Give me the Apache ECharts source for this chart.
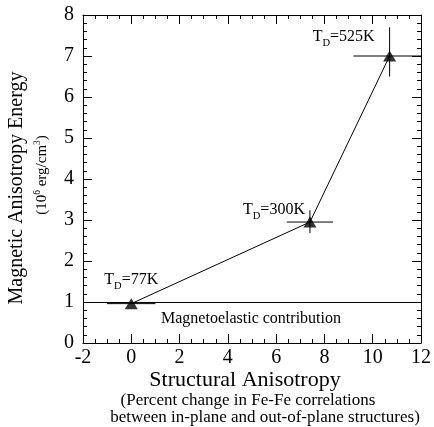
<!DOCTYPE html>
<html>
<head>
<meta charset="utf-8">
<script src="https://cdn.jsdelivr.net/npm/echarts@6/dist/echarts.min.js"></script>
<style>
html, body { margin: 0; background: #fff; }
#chart { width: 434px; height: 427px; }
</style>
</head>
<body>
<div id="chart"></div>
<script>
// structural anisotropy (%), magnetic anisotropy energy (10^6 erg/cm^3)
const anisoX = [0, 7.4, 10.7]
const energyY = [0.96, 2.95, 7.0]
const xErr = [1.0, 0.96, 1.5]
const yLow = [0.96, 2.68, 6.5]
const yHigh = [0.96, 3.24, 7.7]
const tempLabels = ['77K', '300K', '525K']
const magnetoelastic = 1.0
const xRange = [-2, 12]
const yRange = [0, 8]

const FONT = '"Liberation Serif", "Times New Roman", serif'
// label placement relative to each point, in px: [dx, dy, align]
const labelPos = [[0, -24, 'center'], [-5, -12, 'right'], [-15, -19, 'right']]

const chart = echarts.init(document.getElementById('chart'))

const axisCommon = {
  type: 'value',
  axisLine: { show: true, onZero: false, lineStyle: { color: '#000', width: 1 } },
  axisTick: { show: true, inside: true, length: 9, lineStyle: { color: '#000' } },
  minorTick: { show: true, length: 4, lineStyle: { color: '#000' } },
  splitLine: { show: false },
  minorSplitLine: { show: false }
}
const labelStyle = { color: '#000', fontSize: 20, fontFamily: FONT }

chart.setOption({
  animation: false,
  grid: { left: 83, right: 9, top: 15, bottom: 84 },
  xAxis: [
    { ...axisCommon, position: 'bottom', min: xRange[0], max: xRange[1], interval: 2,
      minorTick: { ...axisCommon.minorTick, splitNumber: 4 },
      axisLabel: { ...labelStyle, margin: 5 } },
    { ...axisCommon, position: 'top', min: xRange[0], max: xRange[1], interval: 2,
      minorTick: { ...axisCommon.minorTick, splitNumber: 4 },
      axisLabel: { show: false } }
  ],
  yAxis: [
    { ...axisCommon, position: 'left', min: yRange[0], max: yRange[1], interval: 1,
      minorTick: { ...axisCommon.minorTick, splitNumber: 5 },
      axisLabel: { ...labelStyle, margin: 9 } },
    { ...axisCommon, position: 'right', min: yRange[0], max: yRange[1], interval: 1,
      minorTick: { ...axisCommon.minorTick, splitNumber: 5 },
      axisLabel: { show: false } }
  ],
  series: [
    {
      type: 'line',
      data: anisoX.map((x, i) => [x, energyY[i]]),
      symbol: 'none',
      lineStyle: { color: '#000', width: 1 },
      markLine: {
        silent: true, symbol: 'none',
        label: { show: false },
        lineStyle: { color: '#000', width: 1, type: 'solid' },
        data: [{ yAxis: magnetoelastic }]
      }
    },
    {
      type: 'custom',
      clip: true,
      data: anisoX.map((x, i) => [x, energyY[i], xErr[i], yLow[i], yHigh[i]]),
      renderItem: (params, api) => {
        const x = api.value(0), y = api.value(1), dx = api.value(2)
        const l = api.coord([x - dx, y]), r = api.coord([x + dx, y])
        const lo = api.coord([x, api.value(3)]), hi = api.coord([x, api.value(4)])
        const st = { stroke: '#000', lineWidth: 1 }
        return {
          type: 'group',
          children: [
            { type: 'line', shape: { x1: l[0], y1: l[1], x2: r[0], y2: r[1] }, style: st },
            { type: 'line', shape: { x1: lo[0], y1: lo[1], x2: hi[0], y2: hi[1] }, style: st }
          ]
        }
      }
    },
    {
      type: 'scatter',
      data: anisoX.map((x, i) => [x, energyY[i]]),
      symbol: 'triangle',
      symbolSize: [13, 11],
      itemStyle: { color: '#000' }
    }
  ]
})

const mainTxt = { fontSize: 16, fontFamily: FONT, lineHeight: 17 }
const subTxt = { fontSize: 10.5, fontFamily: FONT, lineHeight: 10, padding: [13, 0, 0, 0] }
const supTxt = { fontSize: 9.5, fontFamily: FONT, lineHeight: 9, padding: [0, 0, 9, 0] }

const pointLabels = tempLabels.map((t, i) => {
  const p = chart.convertToPixel({ gridIndex: 0 }, [anisoX[i], energyY[i]])
  return {
    type: 'text',
    x: p[0] + labelPos[i][0], y: p[1] + labelPos[i][1],
    style: {
      text: '{m|T}{s|D}{m|=' + t + '}',
      rich: { m: mainTxt, s: subTxt },
      align: labelPos[i][2], verticalAlign: 'middle', fill: '#000'
    }
  }
})

chart.setOption({
  graphic: [
    ...pointLabels,
    { type: 'text', x: 251, y: 319,
      style: { text: 'Magnetoelastic contribution', fontSize: 16, fontFamily: FONT, fill: '#000', align: 'center', verticalAlign: 'middle' } },
    { type: 'text', x: 245, y: 380,
      style: { text: 'Structural Anisotropy', fontSize: 22, fontFamily: FONT, fill: '#000', align: 'center', verticalAlign: 'middle' } },
    { type: 'text', x: 248, y: 401,
      style: { text: '(Percent change in Fe-Fe correlations', fontSize: 17, fontFamily: FONT, fill: '#000', align: 'center', verticalAlign: 'middle' } },
    { type: 'text', x: 265, y: 418,
      style: { text: 'between in-plane and out-of-plane structures)', fontSize: 17, fontFamily: FONT, fill: '#000', align: 'center', verticalAlign: 'middle' } },
    { type: 'text', x: 17, y: 188, rotation: Math.PI / 2,
      style: { text: 'Magnetic Anisotropy Energy', fontSize: 20, fontFamily: FONT, fill: '#000', align: 'center', verticalAlign: 'middle' } },
    { type: 'text', x: 42, y: 175, rotation: Math.PI / 2,
      style: {
        text: '{m|(10}{u|6}{m| erg/cm}{u|3}{m|)}',
        rich: { m: { fontSize: 15, fontFamily: FONT, lineHeight: 16 }, u: supTxt },
        fill: '#000', align: 'center', verticalAlign: 'middle'
      } }
  ]
})
</script>
</body>
</html>
